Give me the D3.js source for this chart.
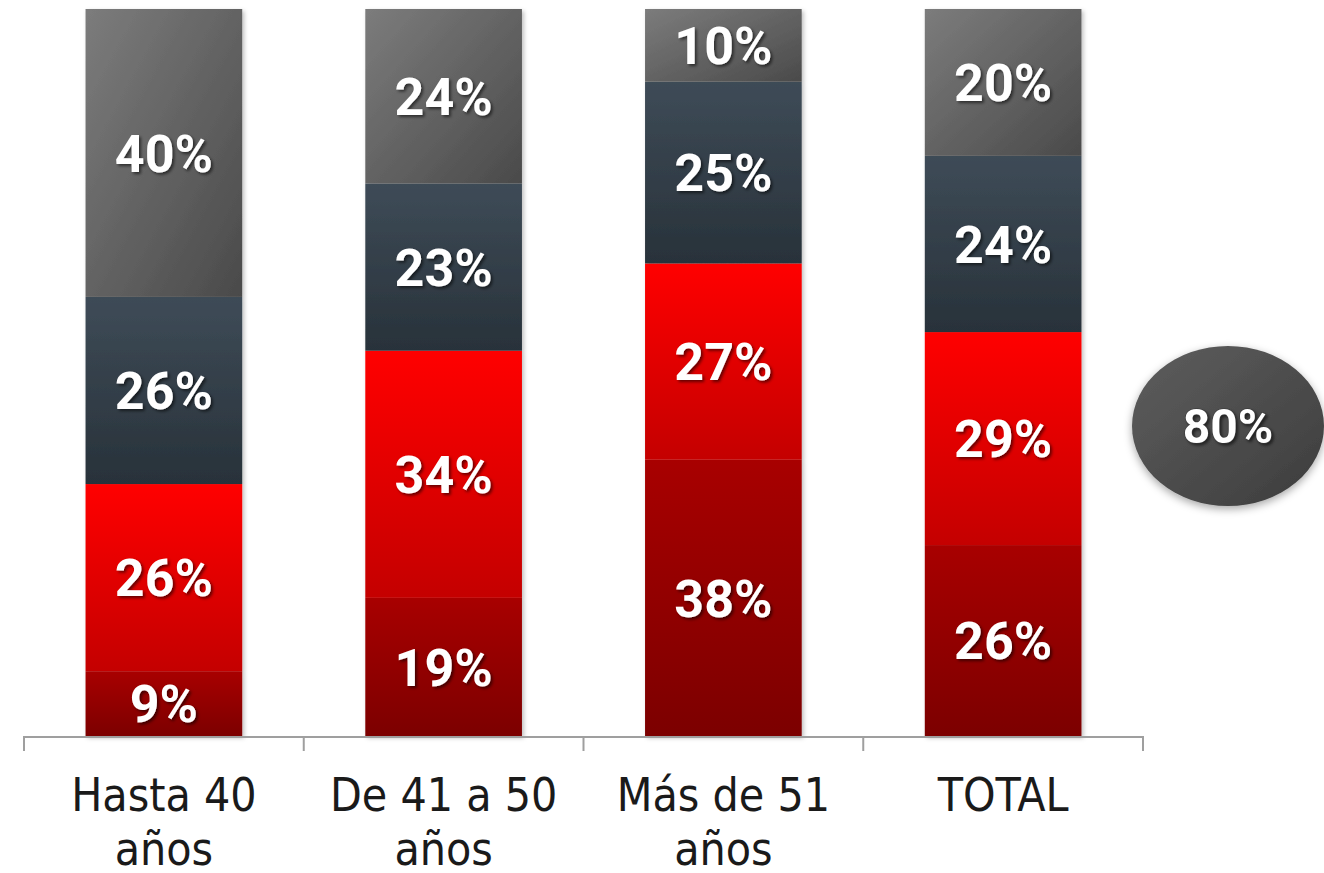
<!DOCTYPE html>
<html>
<head>
<meta charset="utf-8">
<script src="https://cdn.jsdelivr.net/npm/d3@7"></script>
<style>
  html, body { margin: 0; padding: 0; background: #fff; }
  svg { display: block; }
</style>
</head>
<body>
<div id="chart"></div>
<script>
const width = 1324
const height = 873

// age groups (label lines split on \n)
const categories = ['Hasta 40\naños', 'De 41 a 50\naños', 'Más de 51\naños', 'TOTAL']
// stacked from the bottom up
const seriesKeys = ['s1', 's2', 's3', 's4']
const s1 = [9, 19, 38, 26]
const s2 = [26, 34, 27, 29]
const s3 = [26, 23, 25, 24]
const s4 = [40, 24, 10, 20]
const calloutValue = 80

const seriesValues = { s1, s2, s3, s4 }
const rows = categories.map((c, i) => {
  const r = { cat: c }
  seriesKeys.forEach(k => (r[k] = seriesValues[k][i]))
  return r
})

const gradients = {
  s1: { stops: ['#a80000', '#7c0000'], dir: [0, 0, 0, 1] },
  s2: { stops: ['#ff0000', '#c40000'], dir: [0, 0, 0, 1] },
  s3: { stops: ['#3e4b57', '#28323a'], dir: [0, 0, 0, 1] },
  s4: { stops: ['#7c7c7c', '#4a4a4a'], dir: [0, 0, 1, 1] },
}

const svg = d3
  .select('#chart')
  .append('svg')
  .attr('width', width)
  .attr('height', height)

const defs = svg.append('defs')
Object.entries(gradients).forEach(([k, g]) => {
  const lg = defs
    .append('linearGradient')
    .attr('id', 'grad-' + k)
    .attr('x1', g.dir[0])
    .attr('y1', g.dir[1])
    .attr('x2', g.dir[2])
    .attr('y2', g.dir[3])
  lg.append('stop').attr('offset', 0).attr('stop-color', g.stops[0])
  lg.append('stop').attr('offset', 1).attr('stop-color', g.stops[1])
})

const ell = defs
  .append('linearGradient')
  .attr('id', 'grad-ellipse')
  .attr('x1', 0)
  .attr('y1', 0)
  .attr('x2', 1)
  .attr('y2', 1)
ell.append('stop').attr('offset', 0).attr('stop-color', '#5e5e5e')
ell.append('stop').attr('offset', 1).attr('stop-color', '#3c3c3c')

defs
  .append('filter')
  .attr('id', 'barShadow')
  .attr('x', '-10%')
  .attr('y', '-10%')
  .attr('width', '130%')
  .attr('height', '130%')
  .append('feDropShadow')
  .attr('dx', 2)
  .attr('dy', 2)
  .attr('stdDeviation', 2)
  .attr('flood-color', '#000')
  .attr('flood-opacity', 0.25)

defs
  .append('filter')
  .attr('id', 'textShadow')
  .attr('x', '-20%')
  .attr('y', '-20%')
  .attr('width', '150%')
  .attr('height', '150%')
  .append('feDropShadow')
  .attr('dx', 2)
  .attr('dy', 2)
  .attr('stdDeviation', 1.5)
  .attr('flood-color', '#000')
  .attr('flood-opacity', 0.55)

defs
  .append('filter')
  .attr('id', 'ellShadow')
  .attr('x', '-20%')
  .attr('y', '-20%')
  .attr('width', '150%')
  .attr('height', '150%')
  .append('feDropShadow')
  .attr('dx', 0)
  .attr('dy', 3)
  .attr('stdDeviation', 4)
  .attr('flood-color', '#000')
  .attr('flood-opacity', 0.35)

const x = d3
  .scaleBand()
  .domain(categories)
  .range([24, 1143])
  .paddingInner(0.44)
  .paddingOuter(0.22)

const y = d3.scaleLinear().domain([0, 1]).range([736, 9])

const stack = d3.stack().keys(seriesKeys).offset(d3.stackOffsetExpand)
const stacked = stack(rows)

// bars
const layers = svg
  .append('g')
  .attr('filter', 'url(#barShadow)')
  .selectAll('g')
  .data(stacked)
  .join('g')
  .attr('fill', d => `url(#grad-${d.key})`)

layers
  .selectAll('rect')
  .data(d => d)
  .join('rect')
  .attr('x', d => x(d.data.cat))
  .attr('width', x.bandwidth())
  .attr('y', d => y(d[1]))
  .attr('height', d => y(d[0]) - y(d[1]))

// value labels
const labels = svg.append('g').attr('filter', 'url(#textShadow)')
stacked.forEach(layer => {
  labels
    .selectAll(null)
    .data(layer)
    .join('text')
    .attr('x', d => x(d.data.cat) + x.bandwidth() / 2)
    .attr('y', d => (y(d[0]) + y(d[1])) / 2)
    .attr('dy', '0.36em')
    .attr('text-anchor', 'middle')
    .attr('fill', '#fff')
    .style('font-family', 'Roboto, sans-serif')
    .style('font-weight', 'bold')
    .style('font-size', '52px')
    .text(d => d.data[layer.key] + '%')
})

// axis
const axis = svg.append('g').attr('stroke', '#9f9f9f').attr('stroke-width', 2)
const step = x.step()
const bounds = categories.map(c => x(c) - step * x.paddingOuter())
bounds.push(x.range()[1])
axis
  .append('line')
  .attr('x1', x.range()[0])
  .attr('x2', x.range()[1])
  .attr('y1', y(0) + 1)
  .attr('y2', y(0) + 1)
axis
  .selectAll('.tick')
  .data(bounds)
  .join('line')
  .attr('x1', d => d)
  .attr('x2', d => d)
  .attr('y1', y(0))
  .attr('y2', y(0) + 15)

// category labels
const catLabels = svg
  .append('g')
  .selectAll('text')
  .data(categories)
  .join('text')
  .attr('text-anchor', 'middle')
  .attr('fill', '#1a1a1a')
  .style('font-family', '"DejaVu Sans Condensed", "DejaVu Sans", sans-serif')
  .style('font-size', '46px')
catLabels
  .selectAll('tspan')
  .data(d => d.split('\n').map(t => ({ t, cat: d })))
  .join('tspan')
  .attr('x', d => x(d.cat) + x.bandwidth() / 2)
  .attr('y', (d, i) => 811 + i * 54)
  .text(d => d.t)

// callout
const callout = svg.append('g').attr('transform', 'translate(1228,426)')
callout
  .append('ellipse')
  .attr('rx', 96)
  .attr('ry', 80)
  .attr('fill', 'url(#grad-ellipse)')
  .attr('filter', 'url(#ellShadow)')
callout
  .append('text')
  .attr('text-anchor', 'middle')
  .attr('dy', '0.36em')
  .attr('fill', '#fff')
  .attr('stroke', '#333')
  .attr('stroke-width', 1)
  .attr('paint-order', 'stroke')
  .attr('filter', 'url(#textShadow)')
  .style('font-family', 'Roboto, sans-serif')
  .style('font-weight', 'bold')
  .style('font-size', '48px')
  .text(calloutValue + '%')
</script>
</body>
</html>
